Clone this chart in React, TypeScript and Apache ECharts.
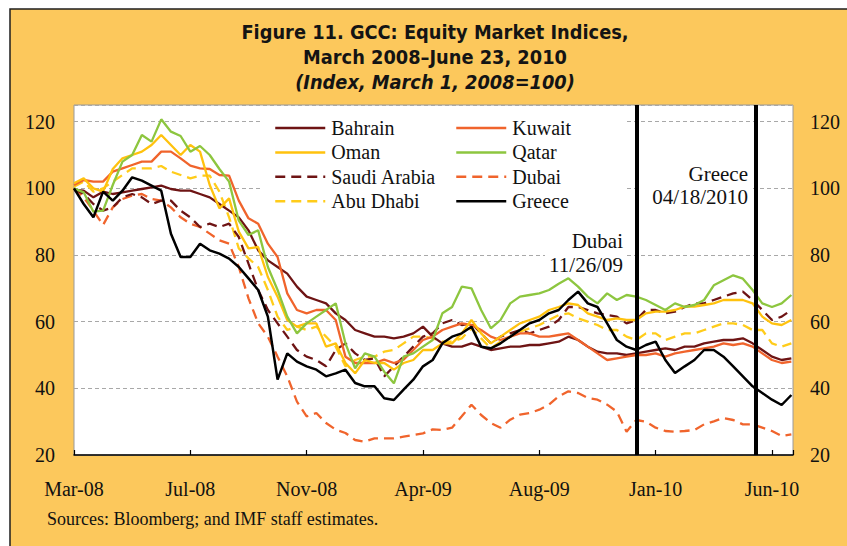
import React, { useEffect, useRef } from 'react';
import * as echarts from 'echarts';

// Sample index: ~every 9.7 px of the original plot (12 samples per x-axis tick)
const xTickLabels = ['Mar-08', 'Jul-08', 'Nov-08', 'Apr-09', 'Aug-09', 'Jan-10', 'Jun-10'];
const samplesPerTick = 12;
const lastSample = 74.17;

const bahrain = [
  99.5, 99.3, 97.3, 99, 98.3, 98.8, 99.3, 99.8, 100.3, 100.8, 99.8, 99.3, 99.3, 98.3, 97.3, 95.3, 93.3, 91.3, 87.4,
  81.4, 78.4, 76.4, 74.4, 70.5, 67.5, 66.5, 65.5, 62.5, 60.5, 57.5, 56.5, 55.5, 55.5, 55, 55.5, 56.5, 58.5,
  55.5, 53.5, 52.5, 52.5, 53.5, 52.5, 51.5, 52, 52.5, 52.5, 53, 53, 53.5, 54, 55.5, 54.5, 52.5, 51, 50.5,
  50.5, 50, 50.5, 51, 51.5, 52, 51.5, 52.5, 52.5, 53.5, 54, 54.5, 54.5, 55, 53.5, 51.5, 49.5, 48.5, 49,
];
const kuwait = [
  101, 102.5, 102, 102, 105, 106, 107, 108, 108, 111, 111, 109, 106.8, 106, 105.8, 104, 103.8, 96.3, 91,
  89.4, 83.4, 79.4, 68.5, 63.5, 62.5, 63.5, 63.5, 60.5, 49.5, 47.6, 47.6, 47.6, 48.6, 47.6, 48.6, 51.5, 54.5,
  55.5, 57.5, 58.5, 59.5, 59, 57.5, 55.5, 54.5, 55.5, 56.5, 56.5, 55.5, 55.5, 56, 56.5, 54.5, 52.5, 50.5, 48.5,
  49, 49.5, 50, 50, 50.5, 49.5, 50.5, 51, 51.5, 52, 52.5, 53.5, 53, 53.5, 52.5, 50.5, 48.5, 47.6, 48,
];
const oman = [
  101.5, 103, 100, 99, 105.8, 109, 110, 111, 113, 116, 113, 110, 113, 111, 101, 94, 97, 87, 82,
  82.4, 73.4, 67.5, 60.5, 58.5, 59.5, 59.5, 52.5, 53.5, 47.6, 44.5, 48.5, 47.6, 47.6, 45.6, 47.6, 48.5, 51.5,
  51.5, 53.5, 53.5, 56.5, 60.5, 56.5, 53.5, 55.5, 57.5, 59.5, 60.5, 61.5, 63.5, 64.4, 65.5, 65, 62.5, 61.5, 60.5,
  61, 60.5, 60.5, 62.5, 63, 63, 63.5, 64.5, 64.5, 65, 65.5, 66.5, 66.5, 66.5, 65.5, 61.5, 59.5, 59, 60.5,
];
const qatar = [
  100, 98.8, 93, 93.3, 101, 108, 110, 116, 114, 120.7, 117, 115.7, 111, 112.7, 110, 105.8, 102, 90.3, 86,
  87.4, 76.4, 69.5, 61.5, 56.5, 59.5, 61.5, 63.5, 65.5, 53.5, 46, 50.5, 49.5, 45, 41.5, 49.5, 50.5, 52.5,
  54.5, 62.5, 64.4, 70.5, 70, 63.5, 58, 60.5, 65.5, 67.5, 68, 68.5, 69.5, 71.4, 73, 70.5, 67.5, 65.5, 68.5,
  66.5, 68, 67.5, 66.5, 65, 63.5, 65.5, 64.4, 65, 66.5, 70.9, 72.4, 73.9, 72.9, 69.5, 65.5, 64.4, 65.5, 68,
];
const saudiArabia = [
  99.8, 98.3, 95.3, 93.3, 94.3, 97.3, 98.3, 97.3, 95.3, 96.3, 96.3, 93.3, 91.3, 88.4, 89.4, 88.4, 89.4, 85.4, 77.4,
  69.5, 63.5, 59.5, 55.5, 51.5, 49.5, 48.5, 46.6, 51.5, 53.5, 50.5, 48.5, 49, 43.6, 46.6, 49.5, 52.5, 55.5,
  56.5, 59.5, 60.5, 59, 59.5, 56.5, 53.5, 55.5, 56.5, 57.5, 56.5, 57.5, 58.5, 60.5, 64.4, 64.4, 63.5, 62.5, 62,
  61.5, 59.5, 60.5, 63.5, 63.5, 62.5, 63, 64.4, 65.5, 65.5, 66.5, 67.5, 68.5, 69, 66.5, 63.5, 60.5, 61.5, 63.5,
];
const dubai = [
  100, 97.3, 93.3, 89, 94.3, 96.8, 97.8, 98.3, 96.8, 96.3, 94.3, 91.3, 89.4, 88.4, 86.4, 84.4, 83.4, 76.4, 67,
  59.5, 55.5, 49.5, 43.6, 36, 31.6, 32.6, 29.6, 27.6, 26.6, 24.5, 24, 25, 25, 25, 25.5, 26, 26.5,
  27.7, 27.5, 28.2, 31.6, 35.1, 32, 29.6, 28.2, 30.6, 32.1, 32.6, 33.6, 35.1, 37.6, 39.1, 38.6, 37.1, 36.6, 35.1,
  33, 27, 30.5, 30, 28.2, 27.2, 27, 27.2, 27.5, 29.2, 30.1, 31.1, 30.5, 29.2, 29.2, 28.2, 27.2, 25.7, 26.2,
];
const abuDhabi = [
  100.5, 102, 99, 100, 102, 104, 106, 106, 106, 106.7, 105, 104, 103, 103.8, 103.8, 99, 91.3, 82, 79,
  76.4, 69.5, 61.5, 57.5, 58.5, 57.5, 58.5, 55.5, 52.5, 46.6, 48.5, 49.5, 49.5, 51, 51.5, 53.5, 55.5, 55.5,
  55, 54, 54, 55, 58, 55, 52, 54, 55.5, 57, 58, 59, 60.5, 62, 62.5, 61, 60, 59, 57.5,
  57.5, 55.5, 54.5, 56.5, 56.5, 54.5, 55.5, 56.5, 56.5, 57.5, 58.5, 59.5, 59.5, 59, 57.5, 57.5, 53.5, 52.5, 53.5,
];
const greece = [
  100, 95.3, 91.3, 99, 96.3, 99.3, 103.3, 102.3, 100.8, 99.3, 86.4, 79.4, 79.4, 83.4, 81.4, 80.4, 78.9, 76.4, 73,
  69.5, 61.5, 42.6, 50.5, 48, 46.6, 45.6, 43.6, 44.5, 45.6, 41.6, 40.6, 40.6, 37, 36.5, 39.6, 42.6, 46.6,
  48.5, 53.5, 55.5, 56.5, 58.5, 52.5, 52, 53.5, 55.5, 57.5, 59.5, 60.5, 62.5, 63.5, 66.5, 69, 65.5, 64.4, 59.5,
  54.5, 52.5, 51.5, 53, 54, 48.5, 44.6, 46.6, 48.5, 51.5, 51.5, 49.5, 46.6, 43.6, 40.6, 38.6, 36.6, 35, 38,
];

const eventNames = ['Dubai', 'Greece'];
const eventDates = ['11/26/09', '04/18/2010'];
const eventSamples = [58.08, 70.28];

const legendCol1 = ['Bahrain', 'Oman', 'Saudi Arabia', 'Abu Dhabi'];
const legendCol2 = ['Kuwait', 'Qatar', 'Dubai', 'Greece'];

const SERIF = "'Liberation Serif', 'DejaVu Serif', serif";
const TITLE_FONT = "'DejaVu Sans Condensed', 'Liberation Sans', sans-serif";
const MAROON = '#6E1414';
const ORANGE = '#F0642C';
const GOLD = '#FFC20E';
const GOLD_DASH = '#FFCC1A';
const GREEN = '#8DC63F';
const DASH = [10, 6];

const seriesDefs = [
  { name: 'Dubai', data: dubai, color: ORANGE, dashed: true, width: 2.3 },
  { name: 'Abu Dhabi', data: abuDhabi, color: GOLD_DASH, dashed: true, width: 2.3 },
  { name: 'Saudi Arabia', data: saudiArabia, color: MAROON, dashed: true, width: 2.3 },
  { name: 'Bahrain', data: bahrain, color: MAROON, dashed: false, width: 2.3 },
  { name: 'Kuwait', data: kuwait, color: ORANGE, dashed: false, width: 2.3 },
  { name: 'Oman', data: oman, color: GOLD, dashed: false, width: 2.3 },
  { name: 'Qatar', data: qatar, color: GREEN, dashed: false, width: 2.3 },
  { name: 'Greece', data: greece, color: '#000000', dashed: false, width: 2.5 },
];

function buildOption() {
  const series: any[] = seriesDefs.map((d) => ({
    name: d.name,
    type: 'line',
    data: d.data.map((v, i) => [i, v]),
    symbol: 'none',
    showSymbol: false,
    color: d.color,
    lineStyle: { color: d.color, width: d.width, type: d.dashed ? DASH : 'solid' },
    z: 3,
  }));
  series[series.length - 1].markLine = {
    silent: true,
    symbol: ['none', 'none'],
    label: { show: false },
    lineStyle: { color: '#000', width: 4, type: 'solid' },
    data: eventSamples.map((x) => ({ xAxis: x })),
  };

  const legendBase = {
    orient: 'vertical',
    top: 118,
    itemWidth: 50,
    itemHeight: 14,
    itemGap: 4.4,
    padding: 0,
    itemStyle: { opacity: 0, borderWidth: 0 },
    lineStyle: { width: 2.5 },
    textStyle: { fontFamily: SERIF, fontSize: 20, color: '#111', lineHeight: 20, padding: [0, 0, 0, 1] },
  };

  return {
    animation: false,
    backgroundColor: '#ffffff',
    grid: {
      left: 74,
      right: 54,
      top: 105,
      bottom: 91,
      show: true,
      backgroundColor: '#ffffff',
      borderColor: '#9a9a9a',
      borderWidth: 1,
    },
    legend: [
      { ...legendBase, left: 274, data: legendCol1 },
      { ...legendBase, left: 455, data: legendCol2 },
    ],
    xAxis: {
      type: 'value',
      min: 0,
      max: lastSample,
      interval: samplesPerTick,
      axisLine: { show: true, lineStyle: { color: '#000', width: 1.5 } },
      axisTick: { show: true, inside: true, length: 5, lineStyle: { color: '#000', width: 1.2 } },
      splitLine: { show: false },
      axisLabel: {
        margin: 24,
        fontFamily: SERIF,
        fontSize: 20,
        color: '#111',
        showMaxLabel: true,
        formatter: (v: number) => {
          const i = Math.round(v / samplesPerTick);
          return Math.abs(v - i * samplesPerTick) < 1e-6 && xTickLabels[i] ? xTickLabels[i] : '';
        },
      },
    },
    yAxis: [
      {
        type: 'value',
        min: 20,
        max: 125,
        interval: 20,
        position: 'left',
        axisLine: { show: false },
        axisTick: { show: false },
        splitLine: { show: true, lineStyle: { color: '#a8a8a8', width: 1, type: [4, 3] } },
        axisLabel: {
          margin: 19,
          fontFamily: SERIF,
          fontSize: 20,
          color: '#111',
          formatter: (v: number) => (v % 20 === 0 ? String(v) : ''),
        },
      },
      {
        type: 'value',
        min: 20,
        max: 125,
        interval: 20,
        position: 'right',
        axisLine: { show: false },
        axisTick: { show: false },
        splitLine: { show: false },
        axisLabel: {
          margin: 17,
          fontFamily: SERIF,
          fontSize: 20,
          color: '#111',
          formatter: (v: number) => (v % 20 === 0 ? String(v) : ''),
        },
      },
    ],
    graphic: [
      {
        type: 'rect',
        z: -10,
        shape: { x: 10, y: 9, width: 850, height: 550 },
        style: { fill: '#FCC85C', stroke: '#1e1e1e', lineWidth: 1.5 },
        silent: true,
      },
      {
        type: 'rect',
        z: 1,
        shape: { x: 263, y: 106, width: 364, height: 106 },
        style: { fill: '#ffffff' },
        silent: true,
      },
      {
        type: 'rect',
        z: 1,
        shape: { x: 545, y: 228, width: 82, height: 48 },
        style: { fill: '#ffffff' },
        silent: true,
      },
      {
        type: 'rect',
        z: 1,
        shape: { x: 641, y: 160, width: 110, height: 48 },
        style: { fill: '#ffffff' },
        silent: true,
      },
      {
        type: 'text',
        z: 5,
        x: 435,
        y: 32,
        style: {
          text: 'Figure 11. GCC: Equity Market Indices,',
          fontFamily: TITLE_FONT,
          fontSize: 19.8,
          fontWeight: 'bold',
          fill: '#141414',
          align: 'center',
          verticalAlign: 'middle',
        },
      },
      {
        type: 'text',
        z: 5,
        x: 435,
        y: 57,
        style: {
          text: 'March 2008–June 23, 2010',
          fontFamily: TITLE_FONT,
          fontSize: 19.8,
          fontWeight: 'bold',
          fill: '#141414',
          align: 'center',
          verticalAlign: 'middle',
        },
      },
      {
        type: 'text',
        z: 5,
        x: 435,
        y: 82,
        style: {
          text: '(Index, March 1, 2008=100)',
          fontFamily: TITLE_FONT,
          fontSize: 19.8,
          fontWeight: 'bold',
          fontStyle: 'italic',
          fill: '#141414',
          align: 'center',
          verticalAlign: 'middle',
        },
      },
      {
        type: 'text',
        z: 5,
        x: 623,
        y: 253,
        style: {
          text: eventNames[0] + '\n' + eventDates[0],
          fontFamily: SERIF,
          fontSize: 21,
          lineHeight: 24,
          fill: '#111',
          align: 'right',
          verticalAlign: 'middle',
        },
      },
      {
        type: 'text',
        z: 5,
        x: 748,
        y: 185,
        style: {
          text: eventNames[1] + '\n' + eventDates[1],
          fontFamily: SERIF,
          fontSize: 21,
          lineHeight: 23,
          fill: '#111',
          align: 'right',
          verticalAlign: 'middle',
        },
      },
      {
        type: 'text',
        z: 5,
        x: 47,
        y: 519,
        style: {
          text: 'Sources: Bloomberg; and IMF staff estimates.',
          fontFamily: SERIF,
          fontSize: 18,
          fill: '#111',
          align: 'left',
          verticalAlign: 'middle',
        },
      },
    ],
    series,
  };
}

export default function App() {
  const ref = useRef<HTMLDivElement>(null);
  useEffect(() => {
    if (!ref.current) return;
    const chart = echarts.init(ref.current, null, { renderer: 'svg' });
    chart.setOption(buildOption() as any);
    return () => {
      chart.dispose();
    };
  }, []);
  return (
    <div
      ref={ref}
      style={{ position: 'fixed', left: 0, top: 0, width: 847, height: 546, background: '#ffffff' }}
    />
  );
}
